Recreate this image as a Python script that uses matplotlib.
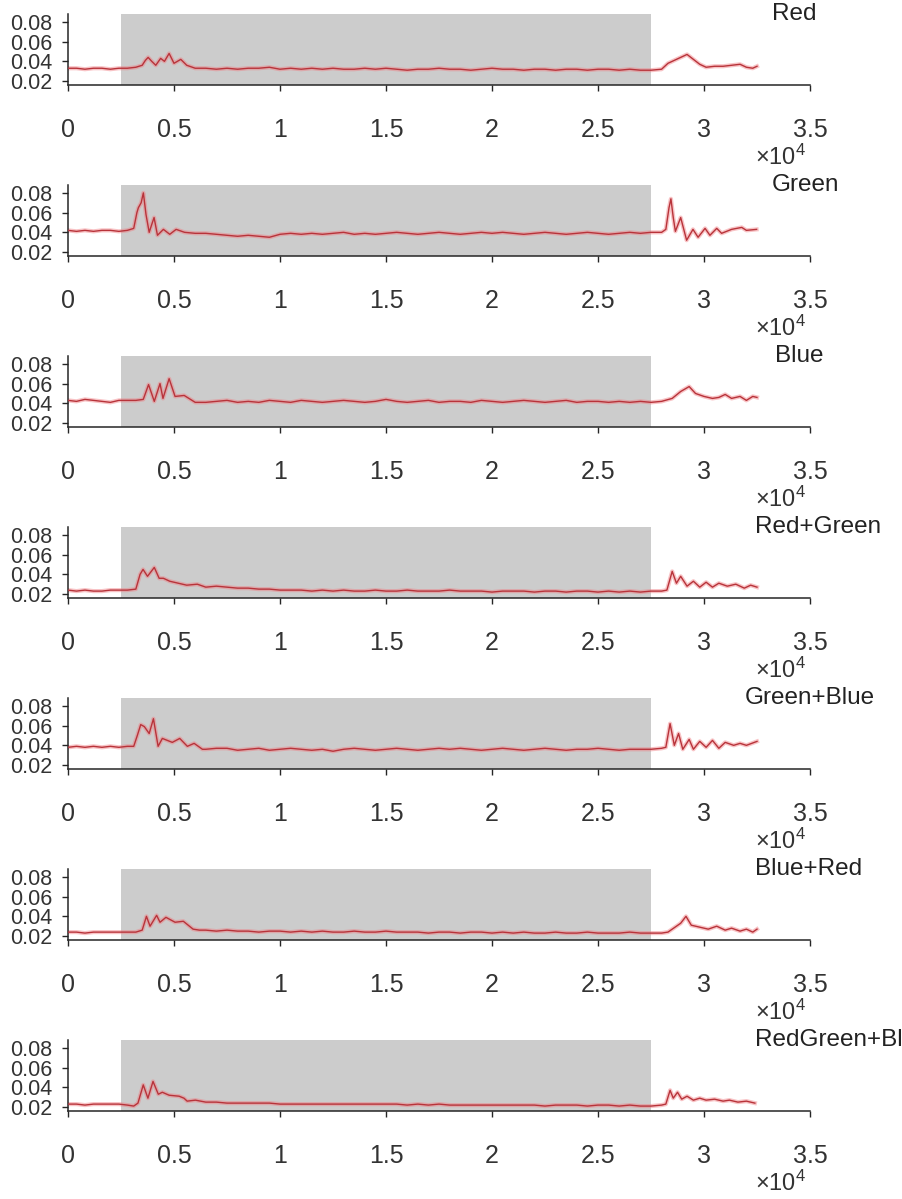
import matplotlib
matplotlib.use("Agg")
import matplotlib.pyplot as plt
from matplotlib.ticker import FuncFormatter

plt.rcParams['font.family'] = ['Liberation Sans', 'DejaVu Sans']
plt.rcParams['mathtext.fontset'] = 'custom'
plt.rcParams['mathtext.rm'] = 'Liberation Sans'
plt.rcParams['mathtext.default'] = 'regular'

# samples shared by every channel across the quiet middle section
mid_x = [6500, 7000, 7500, 8000, 8500, 9000, 9500, 10000, 10500, 11000,
         11500, 12000, 12500, 13000, 13500, 14000, 14500, 15000, 15500, 16000,
         16500, 17000, 17500, 18000, 18500, 19000, 19500, 20000, 20500, 21000,
         21500, 22000, 22500, 23000, 23500, 24000, 24500, 25000, 25500, 26000,
         26500, 27000]

# Red
red_head_x = [0, 400, 800, 1200, 1600, 2000, 2400, 2800, 3200, 3500, 3650, 3780, 3950,
              4140, 4370, 4550, 4770, 5000, 5160, 5320, 5600, 6000]
red_head_y = [.033, .033, .032, .033, .033, .032, .033, .033, .034, .036, .041, .044, .040,
              .036, .043, .040, .048, .038, .040, .042, .036, .033]
red_mid_y = [.033, .032, .033, .032, .033, .033, .034, .032, .033, .032,
             .033, .032, .033, .032, .032, .033, .032, .033, .032, .031,
             .032, .032, .033, .032, .032, .031, .032, .033, .032, .032,
             .031, .032, .032, .031, .032, .032, .031, .032, .032, .031,
             .032, .031]
red_tail_x = [27500, 28000, 28300, 28600, 28900, 29200, 29500, 29800, 30100, 30500,
              30900, 31300, 31700, 32000, 32300, 32500]
red_tail_y = [.031, .032, .038, .041, .044, .047, .042, .037, .034, .035,
              .035, .036, .037, .034, .033, .035]

# Green
green_head_x = [0, 400, 800, 1200, 1600, 2000, 2400, 2800, 3100, 3250, 3320, 3450, 3555,
                3680, 3830, 3950, 4060, 4220, 4500, 4800, 5100, 5500, 6000]
green_head_y = [.042, .041, .042, .041, .042, .042, .041, .042, .044, .060, .065, .070, .080,
                .058, .040, .048, .055, .037, .043, .038, .043, .040, .039]
green_mid_y = [.039, .038, .037, .036, .037, .036, .035, .038, .039, .038,
               .039, .038, .039, .040, .038, .039, .038, .039, .040, .039,
               .038, .039, .040, .039, .038, .039, .040, .039, .040, .039,
               .038, .039, .040, .039, .038, .039, .040, .039, .038, .039,
               .040, .039]
green_tail_x = [27500, 28000, 28200, 28350, 28440, 28550, 28650, 28900, 29180, 29480,
                29720, 30050, 30280, 30600, 30830, 31300, 31780, 32000, 32480]
green_tail_y = [.040, .040, .043, .065, .074, .055, .041, .055, .032, .043,
                .035, .044, .037, .044, .039, .043, .045, .042, .043]

# Blue
blue_head_x = [0, 400, 800, 1200, 1600, 2000, 2400, 2800, 3200, 3550, 3800, 4070,
               4340, 4480, 4770, 5050, 5480, 6000]
blue_head_y = [.043, .042, .044, .043, .042, .041, .043, .043, .043, .044, .059, .042,
               .060, .045, .065, .047, .048, .041]
blue_mid_y = [.041, .042, .043, .041, .042, .041, .043, .042, .041, .043,
              .042, .041, .042, .043, .042, .041, .042, .044, .042, .041,
              .042, .043, .041, .042, .042, .041, .043, .042, .041, .042,
              .043, .042, .041, .042, .043, .041, .042, .042, .041, .042,
              .041, .042]
blue_tail_x = [27500, 28000, 28500, 28900, 29300, 29600, 30000, 30400, 30700, 31000,
               31300, 31700, 32000, 32300, 32500]
blue_tail_y = [.041, .042, .045, .052, .057, .050, .047, .045, .046, .049,
               .045, .047, .043, .047, .046]

# Red+Green
rg_head_x = [0, 400, 800, 1200, 1600, 2000, 2400, 2800, 3200, 3400, 3540, 3750, 4070,
             4300, 4500, 4800, 5200, 5600, 6100]
rg_head_y = [.024, .023, .024, .023, .023, .024, .024, .024, .025, .040, .045, .038, .047,
             .036, .036, .033, .031, .029, .030]
rg_mid_y = [.027, .028, .027, .026, .026, .025, .025, .024, .024, .024,
            .023, .024, .023, .024, .023, .023, .024, .023, .023, .024,
            .023, .023, .023, .024, .023, .023, .023, .022, .023, .023,
            .023, .022, .023, .023, .022, .023, .023, .022, .023, .022,
            .023, .022]
rg_tail_x = [27500, 28000, 28250, 28500, 28700, 28900, 29200, 29500, 29800, 30100,
             30400, 30700, 31100, 31500, 31900, 32200, 32500]
rg_tail_y = [.023, .023, .024, .043, .031, .038, .028, .033, .027, .032,
             .027, .031, .028, .030, .026, .029, .027]

# Green+Blue
gb_head_x = [0, 400, 800, 1200, 1600, 2000, 2400, 2800, 3100, 3270, 3430, 3600,
             3830, 4030, 4250, 4450, 4920, 5270, 5630, 5950, 6340]
gb_head_y = [.038, .039, .038, .039, .038, .039, .038, .039, .039, .050, .061, .059,
             .052, .067, .039, .047, .043, .047, .039, .042, .036]
gb_mid_y = [.036, .037, .037, .035, .036, .037, .035, .036, .037, .036,
            .035, .036, .034, .036, .037, .036, .035, .036, .037, .036,
            .035, .036, .037, .036, .037, .036, .035, .036, .037, .036,
            .035, .036, .037, .036, .035, .036, .036, .037, .036, .035,
            .036, .036]
gb_tail_x = [27500, 28000, 28200, 28400, 28600, 28800, 29000, 29300, 29500, 29800,
             30100, 30400, 30700, 31000, 31400, 31700, 32000, 32500]
gb_tail_y = [.036, .037, .038, .062, .040, .052, .036, .046, .036, .044,
             .038, .045, .037, .043, .040, .042, .040, .044]

# Blue+Red
br_head_x = [0, 400, 800, 1200, 1600, 2000, 2400, 2800, 3200, 3500, 3700, 3870,
             4180, 4340, 4620, 5050, 5440, 5900, 6200]
br_head_y = [.024, .024, .023, .024, .024, .024, .024, .024, .024, .026, .040, .030,
             .041, .034, .039, .034, .035, .027, .026]
br_mid_y = [.026, .025, .026, .025, .025, .024, .025, .025, .024, .025,
            .024, .025, .024, .024, .025, .024, .024, .025, .024, .024,
            .024, .023, .024, .024, .023, .024, .024, .023, .024, .023,
            .024, .023, .023, .024, .023, .023, .024, .023, .023, .023,
            .024, .023]
br_tail_x = [27500, 28000, 28300, 28700, 28900, 29150, 29400, 29800, 30200, 30600,
             31000, 31300, 31700, 32000, 32300, 32500]
br_tail_y = [.023, .023, .024, .030, .033, .040, .031, .029, .027, .030,
             .026, .028, .025, .027, .024, .027]

# RedGreen+Blue
rgb_head_x = [0, 400, 800, 1200, 1600, 2000, 2400, 2800, 3100, 3300, 3550, 3770,
              4010, 4260, 4450, 4770, 5240, 5470, 5620, 6010]
rgb_head_y = [.023, .023, .022, .023, .023, .023, .023, .022, .021, .024, .0425, .029,
              .046, .033, .035, .032, .031, .029, .026, .027]
rgb_mid_y = [.025, .025, .024, .024, .024, .024, .024, .023, .023, .023,
             .023, .023, .023, .023, .023, .023, .023, .023, .023, .022,
             .023, .022, .023, .022, .022, .022, .022, .022, .022, .022,
             .022, .022, .021, .022, .022, .022, .021, .022, .022, .021,
             .022, .021]
rgb_tail_x = [27500, 28000, 28200, 28400, 28550, 28750, 28950, 29200, 29500, 29800,
              30100, 30500, 30900, 31200, 31600, 32000, 32400]
rgb_tail_y = [.021, .022, .023, .037, .029, .035, .028, .031, .027, .029,
              .027, .028, .026, .027, .025, .026, .024]

names = ['Red', 'Green', 'Blue', 'Red+Green', 'Green+Blue', 'Blue+Red', 'RedGreen+Blue']
series = [
    (red_head_x, red_head_y, red_mid_y, red_tail_x, red_tail_y),
    (green_head_x, green_head_y, green_mid_y, green_tail_x, green_tail_y),
    (blue_head_x, blue_head_y, blue_mid_y, blue_tail_x, blue_tail_y),
    (rg_head_x, rg_head_y, rg_mid_y, rg_tail_x, rg_tail_y),
    (gb_head_x, gb_head_y, gb_mid_y, gb_tail_x, gb_tail_y),
    (br_head_x, br_head_y, br_mid_y, br_tail_x, br_tail_y),
    (rgb_head_x, rgb_head_y, rgb_mid_y, rgb_tail_x, rgb_tail_y),
]
# left edge of each name label, in pixels
name_left = [772, 772, 775, 755, 745, 755, 755]

stim_on, stim_off = 2500, 27500
xticks = [0, 5000, 10000, 15000, 20000, 25000, 30000, 35000]
yticks = [0.02, 0.04, 0.06, 0.08]

W, H = 902, 1199
fig = plt.figure(figsize=(W / 100, H / 100), dpi=100)

ax_left, ax_w, ax_h = 68, 742, 71
for i, (name, (hx, hy, my, tx, ty)) in enumerate(zip(names, series)):
    bottom = 85 + 171 * i
    ax = fig.add_axes([ax_left / W, 1 - bottom / H, ax_w / W, ax_h / H])
    x = hx + mid_x + tx
    y = hy + my + ty

    ax.axvspan(stim_on, stim_off, color='#cccccc', lw=0, zorder=0)
    ax.plot(x, y, color='#f07a80', lw=3.0, alpha=0.45, solid_joinstyle='round', zorder=2)
    ax.plot(x, y, color='#b8333a', lw=1.0, zorder=3)

    ax.set_xlim(0, 35000)
    ax.set_ylim(0.016, 0.088)
    ax.set_xticks(xticks)
    ax.set_yticks(yticks)
    ax.xaxis.set_major_formatter(FuncFormatter(lambda v, p: f'{v / 1e4:g}'))
    ax.yaxis.set_major_formatter(FuncFormatter(lambda v, p: f'{v:.2f}'))
    ax.tick_params(axis='x', direction='out', length=4, width=1, pad=20,
                   labelsize=18, colors='#262626', labelcolor='#333333')
    ax.tick_params(axis='y', direction='out', length=4, width=1, pad=7,
                   labelsize=15.5, colors='#262626', labelcolor='#333333')
    for s in ['top', 'right']:
        ax.spines[s].set_visible(False)
    for s in ['left', 'bottom']:
        ax.spines[s].set_color('#262626')
        ax.spines[s].set_linewidth(1.1)

    fig.text(name_left[i] / W, 1 - (bottom - ax_h) / H, name, fontsize=17.5,
             ha='left', va='center', color='#222222')
    fig.text(755 / W, 1 - (bottom + 72) / H, r'×10$^4$', fontsize=17,
             ha='left', va='center', color='#333333')

fig.savefig('out.png', dpi=100)
